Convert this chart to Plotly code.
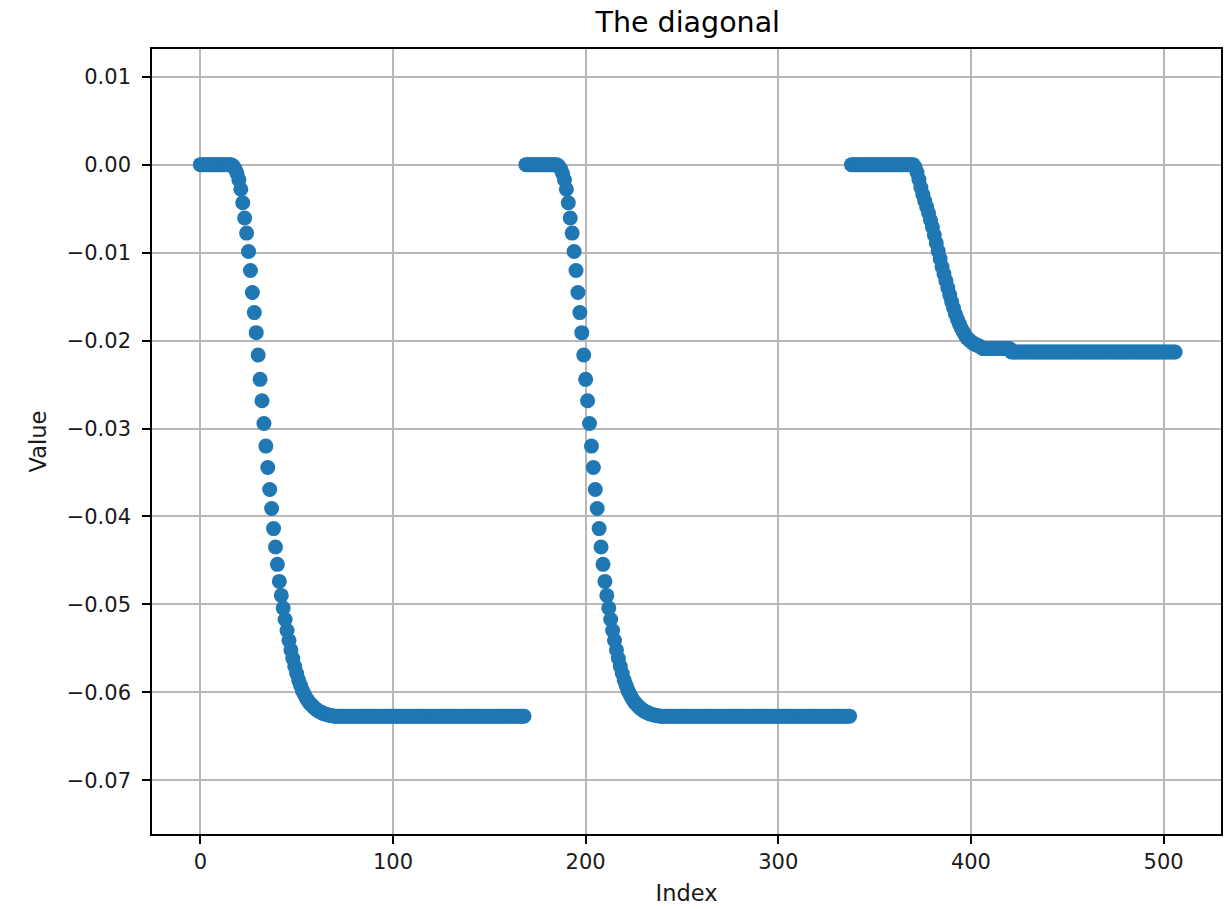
import plotly.graph_objects as go

# ---- data ----
# Segment 1: indices 0..168
seg1_flat = [0.0] * 17
seg1_drop = [-0.00017, -0.00046, -0.00097, -0.00171, -0.00279, -0.00433,
             -0.00607, -0.00778, -0.00987, -0.01204, -0.01454, -0.01682,
             -0.01910, -0.02164, -0.02441, -0.02684, -0.02942, -0.03200,
             -0.03443, -0.03694, -0.03910, -0.04138, -0.04347, -0.04544,
             -0.04738, -0.04897, -0.05040, -0.05171, -0.05296, -0.05410,
             -0.05518, -0.05615, -0.05706, -0.05786, -0.05860, -0.05923,
             -0.05980, -0.06025, -0.06065, -0.06099, -0.06128, -0.06150,
             -0.06173, -0.06190, -0.06207, -0.06219, -0.06230, -0.06241,
             -0.06249, -0.06255, -0.06260, -0.06264, -0.06267]
seg1_tail = [-0.0627] * 99

# Segment 2: indices 169..337
seg2_flat = [0.0] * 17
seg2_drop = [-0.00017, -0.00046, -0.00097, -0.00171, -0.00279, -0.00433,
             -0.00607, -0.00778, -0.00987, -0.01204, -0.01454, -0.01682,
             -0.01910, -0.02164, -0.02441, -0.02684, -0.02942, -0.03200,
             -0.03443, -0.03694, -0.03910, -0.04138, -0.04347, -0.04544,
             -0.04738, -0.04897, -0.05040, -0.05171, -0.05296, -0.05410,
             -0.05518, -0.05615, -0.05706, -0.05786, -0.05860, -0.05923,
             -0.05980, -0.06025, -0.06065, -0.06099, -0.06128, -0.06150,
             -0.06173, -0.06190, -0.06207, -0.06219, -0.06230, -0.06241,
             -0.06249, -0.06255, -0.06260, -0.06264, -0.06267]
seg2_tail = [-0.0627] * 99

# Segment 3: indices 338..506
seg3_flat = [0.0] * 33
seg3_drop = [-0.0003, -0.0009, -0.0017, -0.0026, -0.0034, -0.0041, -0.0048,
             -0.0055, -0.0063, -0.0071, -0.0080, -0.0089, -0.0098, -0.0107,
             -0.0116, -0.0124, -0.0132, -0.0140, -0.0148, -0.0156, -0.0163,
             -0.0170, -0.0176, -0.0181, -0.0186, -0.0190, -0.0194, -0.0197,
             -0.0199, -0.0201, -0.0203, -0.0204, -0.0205, -0.0206, -0.0207]
seg3_mid = [-0.0209] * 15
seg3_tail = [-0.0213] * 86

values = (seg1_flat + seg1_drop + seg1_tail +
          seg2_flat + seg2_drop + seg2_tail +
          seg3_flat + seg3_drop + seg3_mid + seg3_tail)
index = list(range(len(values)))

x_ticks = [0, 100, 200, 300, 400, 500]
y_ticks = [0.01, 0.00, -0.01, -0.02, -0.03, -0.04, -0.05, -0.06, -0.07]

# ---- figure ----
FONT = "DejaVu Sans"
fig = go.Figure()
fig.add_trace(go.Scatter(
    x=index, y=values, mode="markers",
    marker=dict(size=15, color="#1f77b4", line=dict(width=0)),
    showlegend=False, hoverinfo="x+y",
))

axis_common = dict(
    showline=True, linecolor="black", linewidth=1.6, mirror=True,
    showgrid=True, gridcolor="#b8b8b8", gridwidth=1.5,
    ticks="outside", ticklen=8, tickwidth=1.6, tickcolor="black",
    zeroline=False,
    tickfont=dict(family=FONT, size=21, color="#1a1a1a"),
)

fig.update_layout(
    width=1224, height=909,
    margin=dict(l=152, r=1, t=49, b=75),
    paper_bgcolor="white", plot_bgcolor="white",
    font=dict(family=FONT, color="black"),
    title=dict(text="The diagonal", x=0.5619, xanchor="center",
               y=1 - 22 / 909, yanchor="middle", yref="container",
               font=dict(family=FONT, size=28.5, color="black")),
    xaxis=dict(axis_common, range=[-25.1, 529.8], tickvals=x_ticks,
               ticktext=[str(v) for v in x_ticks],
               title=dict(text="Index", standoff=12,
                          font=dict(family=FONT, size=22.5, color="#1a1a1a"))),
    yaxis=dict(axis_common, range=[-0.0761, 0.01315], tickvals=y_ticks,
               tickformat=".2f", ticklabelstandoff=7,
               title=dict(text="Value", standoff=14,
                          font=dict(family=FONT, size=22.5, color="#1a1a1a"))),
)

fig.write_html("out.html")
